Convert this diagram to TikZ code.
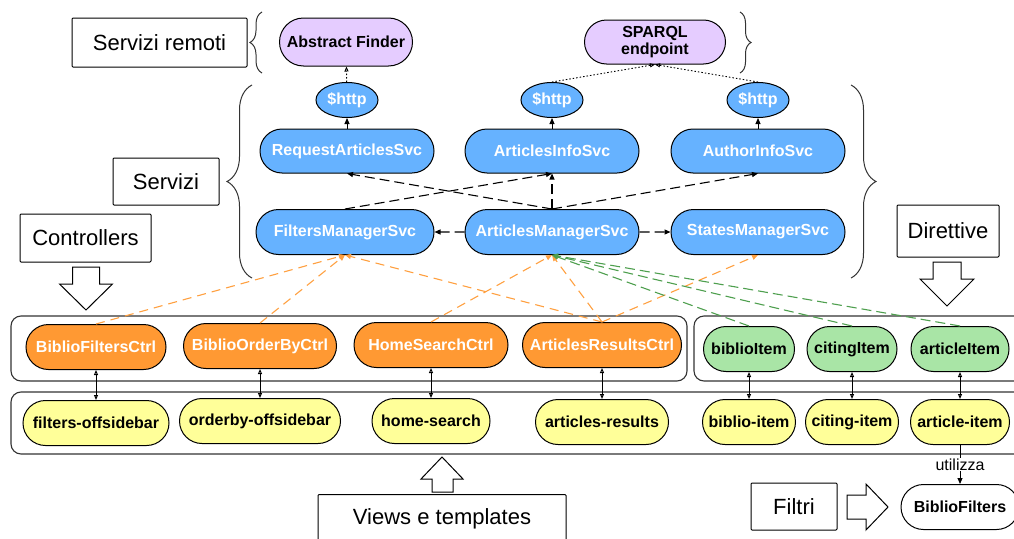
\documentclass[tikz,border=0pt]{standalone}
\usepackage{fontspec}
\setmainfont{Liberation Sans}
\usepackage{tikz}
\usetikzlibrary{shapes.geometric, arrows.meta, shapes.misc, decorations.pathreplacing}
\definecolor{svcblue}{HTML}{66B2FF}
\definecolor{ctrlorange}{HTML}{FF9933}
\definecolor{dirgreen}{HTML}{A9E5A6}
\definecolor{viewyellow}{HTML}{FFFF99}
\definecolor{remotelilac}{HTML}{E5CCFF}
\definecolor{linkorange}{HTML}{FFA040}
\definecolor{linkgreen}{HTML}{4E9F4E}
\definecolor{framegray}{HTML}{333333}

\begin{document}
\begin{tikzpicture}[
  x=1pt, y=-1pt,
  pill/.style={draw, rounded rectangle, line width=1pt, minimum height=45pt, inner sep=2pt, align=center, font=\fontsize{16}{17}\selectfont\bfseries},
  svc/.style={pill, fill=svcblue, text=white, minimum width=178pt},
  ctrl/.style={pill, fill=ctrlorange, text=white},
  direc/.style={pill, fill=dirgreen},
  view/.style={pill, fill=viewyellow},
  remote/.style={pill, fill=remotelilac},
  http/.style={draw, ellipse, line width=1pt, fill=svcblue, text=white, minimum width=62pt, minimum height=35pt, inner sep=0pt, font=\fontsize{16}{17}\selectfont\bfseries},
  tag/.style={draw, rounded corners=1pt, line width=1pt, inner sep=0pt, font=\fontsize{22}{24}\selectfont},
  group/.style={draw=framegray, rounded corners=10pt, line width=1.1pt},
  blockarrow/.style={draw, line width=1pt, fill=white, line join=miter},
  bracket/.style={draw=framegray, line width=1pt, decorate, decoration={brace, aspect=0.5}},
  call/.style={-{Triangle[length=6pt,width=5pt]}, line width=1pt},
  dep/.style={-{Triangle[length=6pt,width=5pt]}, line width=1.1pt, dash pattern=on 10pt off 5pt},
  ctrldep/.style={-{Triangle[length=6pt,width=5pt]}, line width=1.1pt, linkorange, dash pattern=on 9pt off 6pt},
  dirdep/.style={-{Triangle[length=6pt,width=5pt]}, line width=1.1pt, linkgreen, dash pattern=on 10pt off 5pt},
  net/.style={-{Triangle[open,length=5pt,width=4pt]}, line width=0.9pt, dash pattern=on 1.5pt off 2pt},
  bind/.style={{Triangle[open,length=5pt,width=4pt]}-{Triangle[open,length=5pt,width=4pt]}, line width=1pt}
]
\path[use as bounding box] (0,0) rectangle (1014,538);
\clip (0,0) rectangle (1014,538);

% Group frames (bottom)
\draw[group] (11,316) rectangle (687,381);
\draw[group] (694,316) rectangle (1040,381);
\draw[group] (11,392) rectangle (1040,454);

% Remote services
\node[remote, minimum width=137pt, minimum height=48pt] (absf) at (346,42) {Abstract Finder};
\node[remote, minimum width=145pt, minimum height=44pt] (sparql) at (655,42) {SPARQL\\endpoint};

% $http
\node[http] (http1) at (347,100) {\$http};
\node[http] (http2) at (552,100) {\$http};
\node[http] (http3) at (758,100) {\$http};

% Services
\node[svc, minimum height=44pt] (reqsvc) at (347,151) {RequestArticlesSvc};
\node[svc, minimum height=44pt] (infosvc) at (552,151) {ArticlesInfoSvc};
\node[svc, minimum height=44pt] (authsvc) at (758,151) {AuthorInfoSvc};
\node[svc, minimum width=182pt] (filtsvc) at (345,232) {FiltersManagerSvc};
\node[svc] (artsvc) at (552,232) {ArticlesManagerSvc};
\node[svc] (statsvc) at (758,232) {StatesManagerSvc};

% Controllers
\node[ctrl, minimum width=144pt] (ctrl1) at (96,347) {BiblioFiltersCtrl};
\node[ctrl, minimum width=157pt] (ctrl2) at (260,346) {BiblioOrderByCtrl};
\node[ctrl, minimum width=158pt] (ctrl3) at (431,345) {HomeSearchCtrl};
\node[ctrl, minimum width=163pt] (ctrl4) at (602,345) {ArticlesResultsCtrl};

% Directives
\node[direc, minimum width=95pt] (dir1) at (749,349) {biblioItem};
\node[direc, minimum width=94pt] (dir2) at (852,349) {citingItem};
\node[direc, minimum width=102pt] (dir3) at (960,349) {articleItem};

% Views and templates
\node[view, minimum width=150pt] (v1) at (96,423) {filters-offsidebar};
\node[view, minimum width=165pt] (v2) at (260,421) {orderby-offsidebar};
\node[view, minimum width=122pt] (v3) at (431,421) {home-search};
\node[view, minimum width=137pt] (v4) at (602,422) {articles-results};
\node[view, minimum width=97pt] (v5) at (749,422) {biblio-item};
\node[view, minimum width=97pt] (v6) at (852,422) {citing-item};
\node[view, minimum width=103pt] (v7) at (960,422) {article-item};

% Filters
\node[pill, fill=white, minimum width=122pt] (bibf) at (960,507) {BiblioFilters};

% Legend boxes
\node[tag, minimum width=175pt, minimum height=49pt] (tremote) at (159.5,42.5) {Servizi remoti};
\node[tag, minimum width=106pt, minimum height=47pt] (tsvc) at (166,181.5) {Servizi};
\node[tag, minimum width=131pt, minimum height=48pt] (tctrl) at (85.5,238) {Controllers};
\node[tag, minimum width=102pt, minimum height=52pt] (tdir) at (948,231) {Direttive};
\node[tag, minimum width=86pt, minimum height=47pt] (tfilt) at (794,506.5) {Filtri};
\node[tag, anchor=north, minimum width=248pt, minimum height=48pt] (tview) at (442,494) {Views e templates};

% Braces
\draw[bracket, decoration={amplitude=12pt}] (262,73) -- (262,12);
\draw[bracket, decoration={amplitude=11pt}] (740,12) -- (740,73);
\draw[bracket, decoration={amplitude=25pt}] (252,278) -- (252,85);
\draw[bracket, decoration={amplitude=25pt}] (851,85) -- (851,278);

% Block arrows
\draw[blockarrow] (72.5,267) -- (99.5,267) -- (99.5,284) -- (112.5,284) -- (86,310) -- (59.5,284) -- (72.5,284) -- cycle;
\draw[blockarrow] (933,262) -- (961,262) -- (961,279) -- (974,279) -- (947,306) -- (920,279) -- (933,279) -- cycle;
\draw[blockarrow] (432,492) -- (453,492) -- (453,479) -- (463,479) -- (442,457) -- (421,479) -- (432,479) -- cycle;
\draw[blockarrow] (847,495) -- (866,495) -- (866,484) -- (888,507) -- (866,530) -- (866,519) -- (847,519) -- cycle;

% Remote calls
\draw[net] (http1) -- (absf);
\draw[net] (http2.north) -- (sparql.south);
\draw[net] (http3.north) -- (sparql.south);
\draw[call] (reqsvc) -- (http1);
\draw[call] (infosvc) -- (http2);
\draw[call] (authsvc) -- (http3);

% Service dependencies
\draw[dep] (artsvc.north) -- (reqsvc.south);
\draw[dep] (artsvc.north) -- (infosvc.south);
\draw[dep] (artsvc.north) -- (authsvc.south);
\draw[dep] (filtsvc.north) -- (infosvc.south);
\draw[dep] (artsvc) -- (filtsvc);
\draw[dep] (artsvc) -- (statsvc);

% Controller injections
\draw[ctrldep] (ctrl1.north) -- (filtsvc.south);
\draw[ctrldep] (ctrl2.north) -- (filtsvc.south);
\draw[ctrldep] (ctrl3.north) -- (artsvc.south);
\draw[ctrldep] (ctrl4.north) -- (filtsvc.south);
\draw[ctrldep] (ctrl4.north) -- (artsvc.south);
\draw[ctrldep] (ctrl4.north) -- (statsvc.south);

% Directive injections
\draw[dirdep] (dir1.north) -- (artsvc.south);
\draw[dirdep] (dir2.north) -- (artsvc.south);
\draw[dirdep] (dir3.north) -- (artsvc.south);

% Bindings
\draw[bind] (ctrl1) -- (v1);
\draw[bind] (ctrl2) -- (v2);
\draw[bind] (ctrl3) -- (v3);
\draw[bind] (ctrl4) -- (v4);
\draw[bind] (dir1) -- (v5);
\draw[bind] (dir2) -- (v6);
\draw[bind] (dir3) -- (v7);

% Filter usage
\draw[call] (v7) -- node[fill=white, inner sep=1pt, font=\fontsize{16}{17}\selectfont] {utilizza} (bibf);

\end{tikzpicture}
\end{document}
